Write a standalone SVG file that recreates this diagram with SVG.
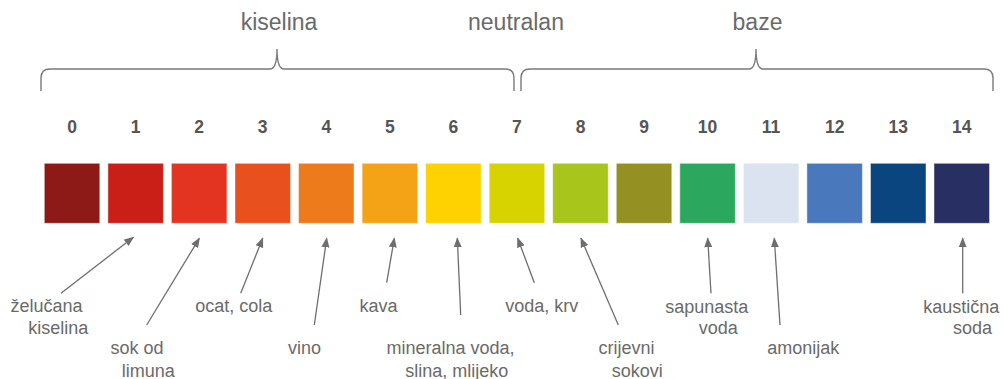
<svg xmlns="http://www.w3.org/2000/svg" width="1004" height="379" viewBox="0 0 1004 379">
<style>
.t{font-family:"Liberation Sans",Arial,sans-serif;fill:#6a6a6a;text-anchor:middle}
.title{font-size:23px}
.lbl{font-size:18px}
.num{font-family:"Liberation Sans",Arial,sans-serif;font-weight:bold;font-size:17.5px;fill:#555;text-anchor:middle}
.brace{fill:none;stroke:#7a7a7a;stroke-width:1.4}
.sq{stroke:#ffffff;stroke-opacity:0.45;stroke-width:1}
.conn line{stroke:#6e6e6e;stroke-width:1.3;marker-end:url(#ah)}
</style>
<defs>
<marker id="ah" viewBox="0 0 10 10" refX="9" refY="5" markerWidth="10" markerHeight="10" markerUnits="userSpaceOnUse" orient="auto">
<path d="M0,1 L10,5 L0,9 Z" fill="#6e6e6e"/>
</marker>
</defs>
<rect width="1004" height="379" fill="#ffffff"/>
<g id="titles">
<text class="t title" x="279" y="30">kiselina</text>
<text class="t title" x="516" y="30">neutralan</text>
<text class="t title" x="757.5" y="30">baze</text>
</g>
<g id="braces">
<path class="brace" d="M41,91 L41,78 Q41,69 50,69 L270,69 Q277,69 277,49 Q277,69 284,69 L505,69 Q514,69 514,78 L514,91"/>
<path class="brace" d="M521,91 L521,78 Q521,69 530,69 L749,69 Q756,69 756,49 Q756,69 763,69 L984,69 Q993,69 993,78 L993,91"/>
</g>
<g id="scale">
<g id="n0"><text class="num" x="72" y="133">0</text><rect class="sq" x="44.3" y="163.3" width="55.5" height="60" fill="#8E1A17"/></g>
<g id="n1"><text class="num" x="135.6" y="133">1</text><rect class="sq" x="107.9" y="163.3" width="55.5" height="60" fill="#CA1F16"/></g>
<g id="n2"><text class="num" x="199.2" y="133">2</text><rect class="sq" x="171.4" y="163.3" width="55.5" height="60" fill="#E33421"/></g>
<g id="n3"><text class="num" x="262.7" y="133">3</text><rect class="sq" x="235" y="163.3" width="55.5" height="60" fill="#E8501E"/></g>
<g id="n4"><text class="num" x="326.3" y="133">4</text><rect class="sq" x="298.5" y="163.3" width="55.5" height="60" fill="#EE7B1B"/></g>
<g id="n5"><text class="num" x="389.8" y="133">5</text><rect class="sq" x="362.1" y="163.3" width="55.5" height="60" fill="#F5A316"/></g>
<g id="n6"><text class="num" x="453.4" y="133">6</text><rect class="sq" x="425.6" y="163.3" width="55.5" height="60" fill="#FDD200"/></g>
<g id="n7"><text class="num" x="516.9" y="133">7</text><rect class="sq" x="489.2" y="163.3" width="55.5" height="60" fill="#D6D300"/></g>
<g id="n8"><text class="num" x="580.5" y="133">8</text><rect class="sq" x="552.7" y="163.3" width="55.5" height="60" fill="#A8C51B"/></g>
<g id="n9"><text class="num" x="644" y="133">9</text><rect class="sq" x="616.3" y="163.3" width="55.5" height="60" fill="#949021"/></g>
<g id="n10"><text class="num" x="707.6" y="133">10</text><rect class="sq" x="679.8" y="163.3" width="55.5" height="60" fill="#2CA85E"/></g>
<g id="n11"><text class="num" x="771.1" y="133">11</text><rect class="sq" x="743.4" y="163.3" width="55.5" height="60" fill="#DAE3EF"/></g>
<g id="n12"><text class="num" x="834.7" y="133">12</text><rect class="sq" x="806.9" y="163.3" width="55.5" height="60" fill="#4A78BC"/></g>
<g id="n13"><text class="num" x="898.2" y="133">13</text><rect class="sq" x="870.5" y="163.3" width="55.5" height="60" fill="#0B4580"/></g>
<g id="n14"><text class="num" x="961.8" y="133">14</text><rect class="sq" x="934" y="163.3" width="55.5" height="60" fill="#272F63"/></g>
</g>
<g id="connectors" class="conn">
<line x1="61" y1="293.3" x2="133.3" y2="237.3"/>
<line x1="146.7" y1="325" x2="199.3" y2="238.3"/>
<line x1="240.7" y1="293.3" x2="262.7" y2="238.3"/>
<line x1="314.3" y1="325" x2="326.7" y2="238.3"/>
<line x1="386.7" y1="282.7" x2="394.3" y2="238.3"/>
<line x1="460.7" y1="315" x2="457.3" y2="238.3"/>
<line x1="534.3" y1="282.7" x2="517.7" y2="238.3"/>
<line x1="618.3" y1="325" x2="581" y2="238.3"/>
<line x1="711" y1="293.3" x2="707.7" y2="238.3"/>
<line x1="780" y1="325" x2="774.3" y2="238.3"/>
<line x1="962.7" y1="293.3" x2="962.7" y2="238.3"/>
</g>
<g id="labels">
<g id="l-zelucana"><text class="t lbl" x="46.5" y="312">želučana</text><text class="t lbl" x="58.3" y="334">kiselina</text></g>
<g id="l-sok"><text class="t lbl" x="137" y="354">sok od</text><text class="t lbl" x="148.2" y="376.5">limuna</text></g>
<g id="l-ocat"><text class="t lbl" x="233.8" y="312">ocat, cola</text></g>
<g id="l-vino"><text class="t lbl" x="304.5" y="354">vino</text></g>
<g id="l-kava"><text class="t lbl" x="378.5" y="312">kava</text></g>
<g id="l-mineralna"><text class="t lbl" x="450.5" y="354">mineralna voda,</text><text class="t lbl" x="456.7" y="376.5">slina, mlijeko</text></g>
<g id="l-voda"><text class="t lbl" x="541.7" y="312">voda, krv</text></g>
<g id="l-crijevni"><text class="t lbl" x="626.5" y="354">crijevni</text><text class="t lbl" x="637.2" y="376.5">sokovi</text></g>
<g id="l-sapunasta"><text class="t lbl" x="706.8" y="312.5">sapunasta</text><text class="t lbl" x="718.3" y="334">voda</text></g>
<g id="l-amonijak"><text class="t lbl" x="803.3" y="354">amonijak</text></g>
<g id="l-kausticna"><text class="t lbl" x="961.3" y="312.5">kaustična</text><text class="t lbl" x="972.5" y="334">soda</text></g>
</g>
</svg>
